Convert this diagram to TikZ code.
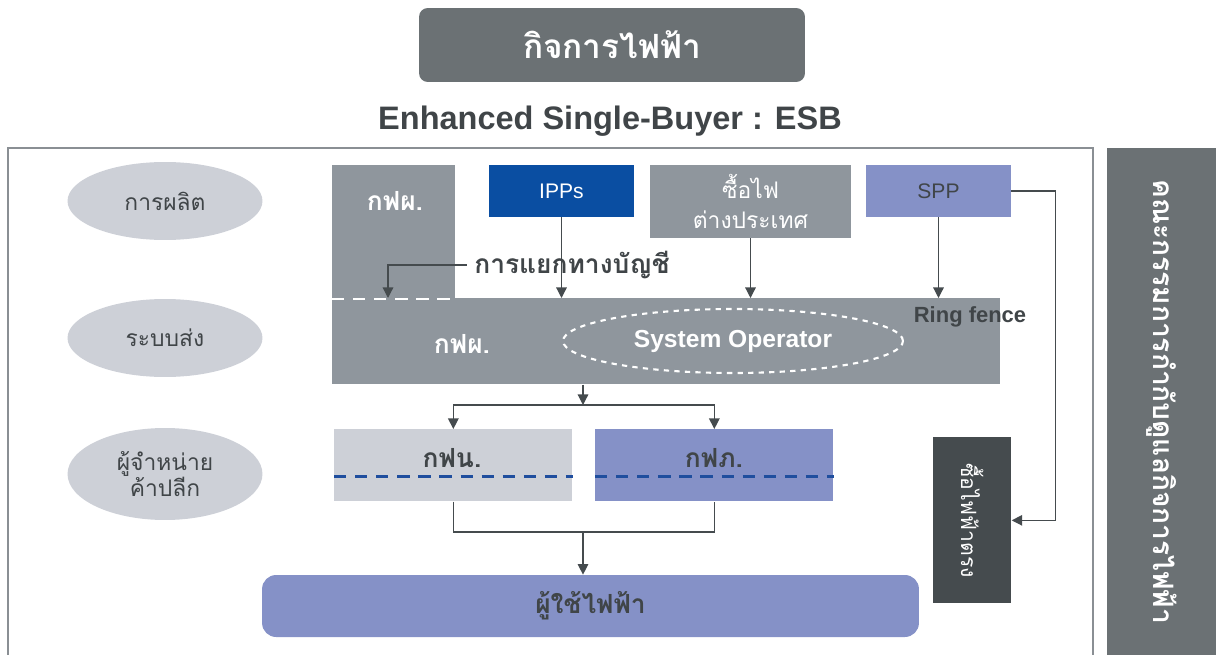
\documentclass[tikz,border=0pt]{standalone}
\usepackage{fontspec}
\setmainfont{Liberation Sans}
\newfontfamily\thai[Script=Thai]{Loma}
\usepackage{tikz}
\usetikzlibrary{arrows.meta,positioning,shapes.geometric}

\definecolor{boxgray}{HTML}{8F969D}
\definecolor{palegray}{HTML}{CDD0D7}
\definecolor{lavender}{HTML}{8591C7}
\definecolor{ippblue}{HTML}{0A4EA2}
\definecolor{darkslate}{HTML}{454B4E}
\definecolor{titlegray}{HTML}{6B7174}
\definecolor{textgray}{HTML}{404548}
\definecolor{dashblue}{HTML}{1F4E9E}
\definecolor{framegray}{HTML}{8A8F94}

\tikzset{
    block/.style={rectangle, inner sep=0pt, anchor=north west},
    stage/.style={ellipse, fill=palegray, text=textgray, inner sep=0pt, align=center,
        minimum width=3.9cm, minimum height=1.56cm, font=\thai\fontsize{13}{15}\selectfont},
    boxtext/.style={inner sep=1pt, font=\thai\bfseries\fontsize{15}{17}\selectfont},
    link/.style={draw=darkslate, line width=0.7pt},
    divider/.style={draw=white, line width=1.2pt, dash pattern=on 7pt off 5pt},
    bluedash/.style={draw=dashblue, line width=1.5pt, dash pattern=on 7pt off 5pt},
}

\begin{document}
\begin{tikzpicture}[x=0.02cm, y=-0.02cm, >={Triangle[length=6pt,width=6pt]}]
    \useasboundingbox (0,0) rectangle (1216,655);

    % Heading
    \node [block, fill=titlegray, rounded corners=5pt, minimum width=7.72cm, minimum height=1.48cm,
        text=white, font=\thai\bfseries\fontsize{19}{23}\selectfont, anchor=center]
        (title) at (612,45) {กิจการไฟฟ้า};
    \node [text=textgray, font=\bfseries\fontsize{18.5}{22}\selectfont] (model) at (610,121)
        {Enhanced Single-Buyer : ESB};

    % Frame and regulator panel
    \draw [framegray, line width=0.6pt] (8,660) |- (1093,148) -- (1093,660);
    \node [block, fill=titlegray, minimum width=2.18cm, minimum height=10.14cm] (erc) at (1107,148) {};
    \node [rotate=-90, text=white, font=\thai\bfseries\fontsize{16}{18}\selectfont] (ercname)
        at (erc.center) {คณะกรรมการกำกับดูแลกิจการไฟฟ้า};

    % Stages {gen, trans, retail}
    \node [stage] (gen) at (165,201) {การผลิต};
    \node [stage] (trans) at (165,338) {ระบบส่ง};
    \node [stage, minimum height=1.84cm] (retail) at (165,474) {ผู้จำหน่าย\\ค้าปลีก};

    % Generation
    \node [block, fill=boxgray, minimum width=2.46cm, minimum height=2.66cm] (egattop) at (332,165) {};
    \node [block, fill=boxgray, minimum width=13.36cm, minimum height=1.72cm] (egatgrid) at (332,298) {};
    \node [boxtext, text=white] (egattoplbl) at (395,201) {กฟผ.};
    \node [boxtext, text=white] (egatgridlbl) at (462,344) {กฟผ.};
    \node [block, fill=ippblue, minimum width=2.9cm, minimum height=1.04cm, text=white,
        font=\fontsize{12}{14}\selectfont, anchor=center] (ipp) at (561.5,191) {IPPs};
    \node [block, fill=boxgray, minimum width=4.02cm, minimum height=1.46cm, text=white, align=center,
        font=\thai\fontsize{13}{17}\selectfont, anchor=center] (import) at (750.5,201.5) {ซื้อไฟ\\ต่างประเทศ};
    \node [block, fill=lavender, minimum width=2.9cm, minimum height=1.04cm, text=textgray,
        font=\fontsize{12}{14}\selectfont, anchor=center] (spp) at (938.5,191) {SPP};
    \draw [divider] (egattop.south west) -- (egattop.south east);
    \node [draw=white, dashed, line width=1.2pt, ellipse, minimum width=6.8cm, minimum height=1.28cm,
        text=white, font=\bfseries\fontsize{14}{16}\selectfont] (sysop) at (733,341) {System Operator};

    % Paths into the grid
    \coordinate (splitend) at (388,298);
    \draw [link, ->] (ipp.south) -- (ipp.south |- egatgrid.north);
    \draw [link, ->] (import.south) -- (import.south |- egatgrid.north);
    \draw [link, ->] (spp.south) -- (spp.south |- egatgrid.north);
    \node [text=textgray, inner sep=4pt, font=\thai\bfseries\fontsize{15}{17}\selectfont] (acct) at (572,265) {การแยกทางบัญชี};
    \draw [link, ->] (acct.west) -| (splitend);
    \node [text=textgray, font=\bfseries\fontsize{12.5}{15}\selectfont] (ring) at (970,317) {Ring fence};

    % Direct purchase
    \node [block, fill=darkslate, minimum width=1.56cm, minimum height=3.32cm] (direct) at (933,437) {};
    \node [rotate=-90, text=white, font=\thai\fontsize{12}{14}\selectfont] (directlbl) at (direct.center) {ซื้อไฟฟ้าตรง};
    \draw [link, ->] (spp.east) -- ++(44,0) |- (direct.east);

    % Distribution
    \node [block, fill=palegray, minimum width=4.76cm, minimum height=1.44cm] (mea) at (334,429) {};
    \node [block, fill=lavender, minimum width=4.76cm, minimum height=1.44cm] (pea) at (595,429) {};
    \node [boxtext, text=textgray] (mealbl) at (452,458) {กฟน.};
    \node [boxtext, text=textgray] (pealbl) at (714,458) {กฟภ.};
    \draw [bluedash] ([yshift=-0.22cm]mea.west) -- ([yshift=-0.22cm]mea.east);
    \draw [bluedash] ([yshift=-0.22cm]pea.west) -- ([yshift=-0.22cm]pea.east);
    \coordinate (fork) at (583,405);
    \draw [link, ->] (fork |- egatgrid.south) -- (fork);
    \draw [link, ->] (fork) -| (mea.north);
    \draw [link, ->] (fork) -| (pea.north);

    % Users
    \node [block, fill=lavender, rounded corners=8pt, minimum width=13.14cm, minimum height=1.24cm,
        text=textgray, font=\thai\bfseries\fontsize{15}{17}\selectfont, anchor=center] (users) at (590.5,606) {ผู้ใช้ไฟฟ้า};
    \coordinate (join) at (583,532);
    \draw [link] (mea.south) |- (join) -| (pea.south);
    \draw [link, ->] (join) -- (join |- users.north);
\end{tikzpicture}
\end{document}
